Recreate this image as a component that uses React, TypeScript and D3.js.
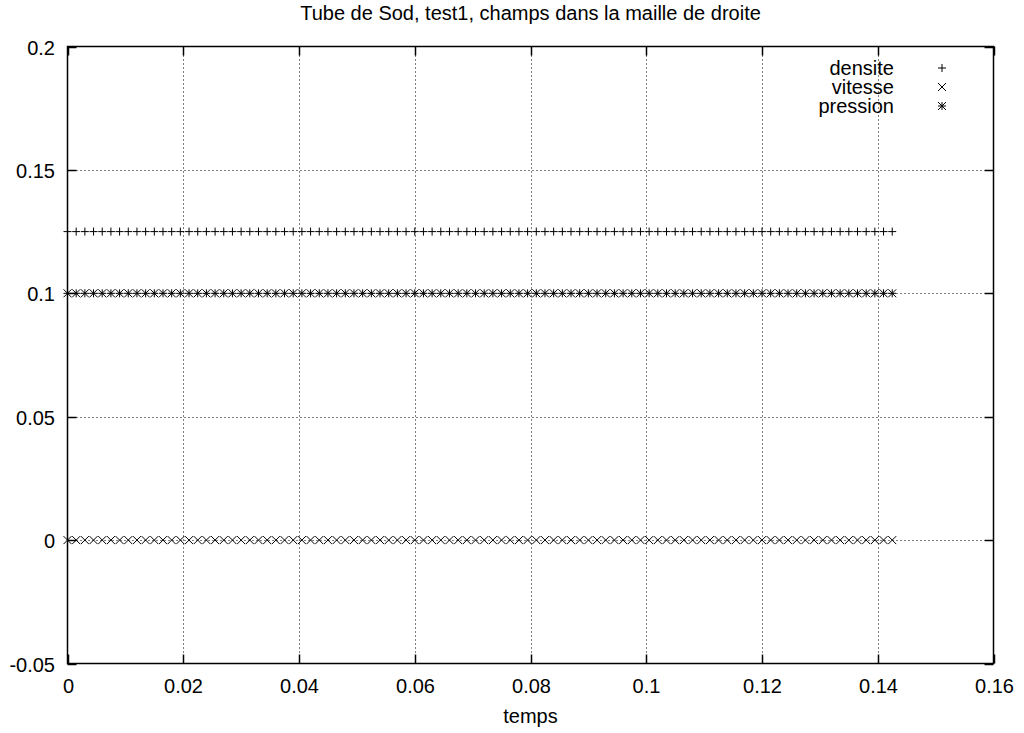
import React from "react";
import * as d3 from "d3";

const times = [
  0, 0.0015, 0.003, 0.0045, 0.006, 0.0075, 0.009, 0.0105, 0.012, 0.0135,
  0.015, 0.0165, 0.018, 0.0195, 0.021, 0.0225, 0.024, 0.0255, 0.027, 0.0285,
  0.03, 0.0315, 0.033, 0.0345, 0.036, 0.0375, 0.039, 0.0405, 0.042, 0.0435,
  0.045, 0.0465, 0.048, 0.0495, 0.051, 0.0525, 0.054, 0.0555, 0.057, 0.0585,
  0.06, 0.0615, 0.063, 0.0645, 0.066, 0.0675, 0.069, 0.0705, 0.072, 0.0735,
  0.075, 0.0765, 0.078, 0.0795, 0.081, 0.0825, 0.084, 0.0855, 0.087, 0.0885,
  0.09, 0.0915, 0.093, 0.0945, 0.096, 0.0975, 0.099, 0.1005, 0.102, 0.1035,
  0.105, 0.1065, 0.108, 0.1095, 0.111, 0.1125, 0.114, 0.1155, 0.117, 0.1185,
  0.12, 0.1215, 0.123, 0.1245, 0.126, 0.1275, 0.129, 0.1305, 0.132, 0.1335,
  0.135, 0.1365, 0.138, 0.1395, 0.141, 0.1425,
];

const densite = [
  0.125, 0.125, 0.125, 0.125, 0.125, 0.125, 0.125, 0.125, 0.125, 0.125,
  0.125, 0.125, 0.125, 0.125, 0.125, 0.125, 0.125, 0.125, 0.125, 0.125,
  0.125, 0.125, 0.125, 0.125, 0.125, 0.125, 0.125, 0.125, 0.125, 0.125,
  0.125, 0.125, 0.125, 0.125, 0.125, 0.125, 0.125, 0.125, 0.125, 0.125,
  0.125, 0.125, 0.125, 0.125, 0.125, 0.125, 0.125, 0.125, 0.125, 0.125,
  0.125, 0.125, 0.125, 0.125, 0.125, 0.125, 0.125, 0.125, 0.125, 0.125,
  0.125, 0.125, 0.125, 0.125, 0.125, 0.125, 0.125, 0.125, 0.125, 0.125,
  0.125, 0.125, 0.125, 0.125, 0.125, 0.125, 0.125, 0.125, 0.125, 0.125,
  0.125, 0.125, 0.125, 0.125, 0.125, 0.125, 0.125, 0.125, 0.125, 0.125,
  0.125, 0.125, 0.125, 0.125, 0.125, 0.125,
];

const vitesse = [
  0, 0, 0, 0, 0, 0, 0, 0, 0, 0,
  0, 0, 0, 0, 0, 0, 0, 0, 0, 0,
  0, 0, 0, 0, 0, 0, 0, 0, 0, 0,
  0, 0, 0, 0, 0, 0, 0, 0, 0, 0,
  0, 0, 0, 0, 0, 0, 0, 0, 0, 0,
  0, 0, 0, 0, 0, 0, 0, 0, 0, 0,
  0, 0, 0, 0, 0, 0, 0, 0, 0, 0,
  0, 0, 0, 0, 0, 0, 0, 0, 0, 0,
  0, 0, 0, 0, 0, 0, 0, 0, 0, 0,
  0, 0, 0, 0, 0, 0,
];

const pression = [
  0.1, 0.1, 0.1, 0.1, 0.1, 0.1, 0.1, 0.1, 0.1, 0.1,
  0.1, 0.1, 0.1, 0.1, 0.1, 0.1, 0.1, 0.1, 0.1, 0.1,
  0.1, 0.1, 0.1, 0.1, 0.1, 0.1, 0.1, 0.1, 0.1, 0.1,
  0.1, 0.1, 0.1, 0.1, 0.1, 0.1, 0.1, 0.1, 0.1, 0.1,
  0.1, 0.1, 0.1, 0.1, 0.1, 0.1, 0.1, 0.1, 0.1, 0.1,
  0.1, 0.1, 0.1, 0.1, 0.1, 0.1, 0.1, 0.1, 0.1, 0.1,
  0.1, 0.1, 0.1, 0.1, 0.1, 0.1, 0.1, 0.1, 0.1, 0.1,
  0.1, 0.1, 0.1, 0.1, 0.1, 0.1, 0.1, 0.1, 0.1, 0.1,
  0.1, 0.1, 0.1, 0.1, 0.1, 0.1, 0.1, 0.1, 0.1, 0.1,
  0.1, 0.1, 0.1, 0.1, 0.1, 0.1,
];

const xTicks = [0, 0.02, 0.04, 0.06, 0.08, 0.1, 0.12, 0.14, 0.16];
const yTicks = [-0.05, 0, 0.05, 0.1, 0.15, 0.2];
const title = "Tube de Sod, test1, champs dans la maille de droite";
const xLabel = "temps";
const seriesNames = ["densite", "vitesse", "pression"];

const W = 1024;
const H = 733;
const left = 67.5;
const right = 993.5;
const top = 46.5;
const bottom = 663.5;

const font = "'Liberation Sans', Arial, Helvetica, sans-serif";
const fs = 20;

function Marker({ kind, x, y }: { kind: string; x: number; y: number }) {
  const s = 4;
  const plus = `M${x - s},${y}H${x + s}M${x},${y - s}V${y + s}`;
  const c = 4;
  const cross = `M${x - c},${y - c}L${x + c},${y + c}M${x - c},${y + c}L${x + c},${y - c}`;
  let d = plus;
  if (kind === "vitesse") d = cross;
  if (kind === "pression") d = plus + cross;
  return <path d={d} stroke="#000" strokeWidth={1} fill="none" />;
}

export default function App() {
  const x = d3.scaleLinear().domain([0, 0.16]).range([left, right]);
  const y = d3.scaleLinear().domain([-0.05, 0.2]).range([bottom, top]);
  const fmt = (v: number) => String(+v.toFixed(4));
  const series: [string, number[]][] = [
    ["densite", densite],
    ["vitesse", vitesse],
    ["pression", pression],
  ];
  const tickLen = 9;

  return (
    <svg
      width={W}
      height={H}
      style={{ position: "absolute", left: 0, top: 0, background: "#fff" }}
      fontFamily={font}
    >
      <rect width={W} height={H} fill="#fff" />
      {/* grid */}
      {xTicks.slice(1, -1).map((t) => (
        <line
          key={"gx" + t}
          x1={Math.round(x(t)) + 0.5}
          x2={Math.round(x(t)) + 0.5}
          y1={top + tickLen}
          y2={bottom - tickLen}
          stroke="#000"
          strokeWidth={1}
          strokeDasharray="1,3"
        />
      ))}
      {yTicks.slice(1, -1).map((t) => (
        <line
          key={"gy" + t}
          x1={left + tickLen}
          x2={right - tickLen}
          y1={Math.round(y(t)) + 0.5}
          y2={Math.round(y(t)) + 0.5}
          stroke="#000"
          strokeWidth={1}
          strokeDasharray="1,3"
        />
      ))}
      {/* ticks */}
      {xTicks.map((t) => {
        const px = Math.round(x(t)) + 0.5;
        return (
          <g key={"tx" + t}>
            <line x1={px} x2={px} y1={bottom} y2={bottom - tickLen} stroke="#000" strokeWidth={1.5} />
            <line x1={px} x2={px} y1={top} y2={top + tickLen} stroke="#000" strokeWidth={1.5} />
            <text x={px} y={bottom + 29} textAnchor="middle" fontSize={fs} fill="#000">
              {fmt(t)}
            </text>
          </g>
        );
      })}
      {yTicks.map((t) => {
        const py = Math.round(y(t)) + 0.5;
        return (
          <g key={"ty" + t}>
            <line x1={left} x2={left + tickLen} y1={py} y2={py} stroke="#000" strokeWidth={1.5} />
            <line x1={right} x2={right - tickLen} y1={py} y2={py} stroke="#000" strokeWidth={1.5} />
            <text x={55} y={py + 7} textAnchor="end" fontSize={fs} fill="#000">
              {fmt(t)}
            </text>
          </g>
        );
      })}
      {/* frame */}
      <rect
        x={left}
        y={top}
        width={right - left}
        height={bottom - top}
        fill="none"
        stroke="#000"
        strokeWidth={1.5}
      />
      {/* data */}
      {series.map(([name, vals]) => (
        <g key={name}>
          {times.map((t, i) => (
            <Marker key={i} kind={name} x={x(t)} y={y(vals[i])} />
          ))}
        </g>
      ))}
      {/* legend */}
      {seriesNames.map((n, i) => (
        <g key={"lg" + n}>
          <text x={894} y={75 + i * 19} textAnchor="end" fontSize={fs} fill="#000">
            {n}
          </text>
          <Marker kind={n} x={942} y={68 + i * 19} />
        </g>
      ))}
      {/* title and axis label */}
      <text x={(left + right) / 2} y={20} textAnchor="middle" fontSize={fs} fill="#000">
        {title}
      </text>
      <text x={(left + right) / 2} y={723} textAnchor="middle" fontSize={fs} fill="#000">
        {xLabel}
      </text>
    </svg>
  );
}
